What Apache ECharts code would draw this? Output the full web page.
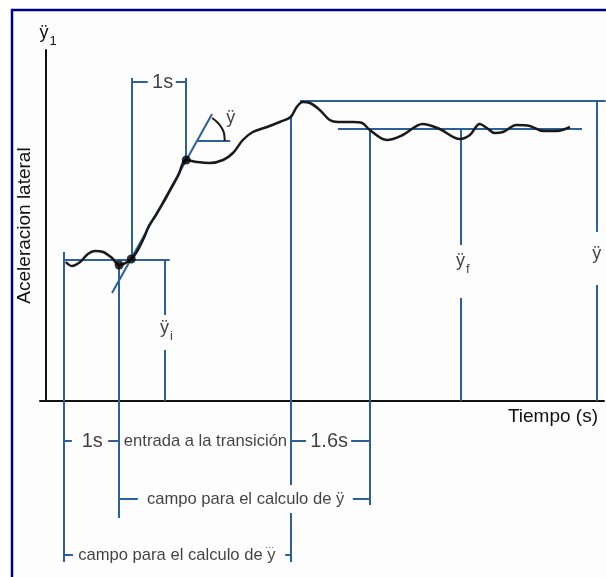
<!DOCTYPE html>
<html><head><meta charset="utf-8">
<script src="https://cdn.jsdelivr.net/npm/echarts@6/dist/echarts.min.js"></script>
<style>html,body{margin:0;padding:0;background:#ffffff}#c{width:606px;height:577px}</style>
</head><body><div id="c"></div>
<script>
// ---- data (time in s, lateral acceleration in arbitrary units) ----
const curveTime  = [0.36,0.47,0.62,0.76,0.89,1.04,1.20,1.33,1.55,1.67,1.78,1.87,2.00,2.13,2.25,2.40,2.55,2.75,2.98,3.22,3.40,3.58,3.76,4.02,4.25,4.45,4.56,4.67,4.80,4.98,5.16,5.31,5.58,5.75,5.89,6.20,6.49,6.85,7.16,7.53,7.71,7.89,8.02,8.16,8.31,8.56,8.80,9.04,9.29,9.53];
const curveAccel = [1.39,1.35,1.39,1.47,1.50,1.49,1.43,1.36,1.42,1.51,1.63,1.75,1.86,1.98,2.10,2.25,2.41,2.39,2.38,2.41,2.48,2.61,2.69,2.74,2.79,2.84,2.94,2.99,2.98,2.91,2.81,2.79,2.79,2.78,2.71,2.61,2.66,2.77,2.72,2.62,2.66,2.77,2.73,2.68,2.69,2.76,2.75,2.70,2.70,2.74];

// key points (black dots)
const dotTime  = [1.33, 1.55, 2.55];
const dotAccel = [1.36, 1.42, 2.41];

// slope (tangent) line
const slopeTime  = [1.20, 3.02];
const slopeAccel = [1.08, 2.87];

// angle arc
const arcTime  = [3.02, 3.11, 3.19, 3.24, 3.25];
const arcAccel = [2.83, 2.79, 2.735, 2.67, 2.60];

// horizontal guide segments: [accel, tFrom, tTo]
const hGuides = [
  [1.41, 0.31, 2.25],
  [2.60, 2.76, 3.35],
  [3.00, 4.62, 10.18],
  [2.72, 5.31, 9.75],
  [3.19, 1.55, 1.85],
  [3.19, 2.36, 2.55],
  [-0.40, 0.33, 0.47],
  [-0.40, 1.13, 1.33],
  [-0.40, 4.45, 4.73],
  [-0.40, 5.55, 5.89],
  [-0.98, 1.33, 1.67],
  [-0.98, 5.58, 5.89],
  [-1.54, 0.33, 0.49],
  [-1.54, 4.35, 4.45]
];
// vertical guide segments: [time, aFrom, aTo]
const vGuides = [
  [0.33, 1.49, -1.61],
  [1.33, 1.36, -1.17],
  [1.55, 3.23, 1.41],
  [2.55, 3.23, 2.41],
  [2.16, 1.41, 0.86],
  [2.16, 0.51, 0.00],
  [4.45, 2.84, -0.84],
  [4.45, -1.12, -1.61],
  [5.89, 2.72, -1.04],
  [7.55, 2.72, 1.56],
  [7.55, 1.03, 0.00],
  [10.02, 3.00, 1.69],
  [10.02, 1.16, 0.00]
];

// annotation texts: [time, accel, text]
const durationLabels = [
  [2.12, 3.19, '1s'],
  [0.84, -0.40, '1s'],
  [5.15, -0.40, '1.6s']
];
const rowLabels = [
  [2.90, -0.40, 'entrada a la transición'],
  [3.63, -0.98, 'campo para el calculo de ÿ'],
  [2.38, -1.54, 'campo para el calculo de y']
];
// third derivative mark over the last "y" of the bottom row
const jerkDots = [
  [4.07, -1.465, '···']
];
const symbolLabels = [
  [3.36, 2.80, '{y|ÿ}'],
  [2.19, 0.70, '{y|ÿ}{s|i}'],
  [7.58, 1.37, '{y|ÿ}{s|f}'],
  [10.02, 1.44, '{y|ÿ}']
];

const xMin = -0.11, xMax = 10.15, yMin = 0, yMax = 3.51;

// ---- build ----
const BLUE = '#2d5f9a';
const INK = '#111111';
const FONT = '"Liberation Sans", Arial, sans-serif';
const zip = (a, b) => a.map((v, i) => [v, b[i]]);

const segs = [];
hGuides.forEach(([a, t1, t2]) => segs.push({coords: [[t1, a], [t2, a]]}));
vGuides.forEach(([t, a1, a2]) => segs.push({coords: [[t, a1], [t, a2]]}));
segs.push({coords: zip(slopeTime, slopeAccel)});

const rich = {
  y: {fontSize: 18, color: INK, fontFamily: FONT, lineHeight: 24, verticalAlign: 'top'},
  s: {fontSize: 13, color: INK, fontFamily: FONT, lineHeight: 24, verticalAlign: 'bottom', padding: [0, 0, 0, 1]}
};

const chart = echarts.init(document.getElementById('c'), null, {renderer: 'canvas'});
chart.setOption({
  animation: false,
  backgroundColor: '#ffffff',
  graphic: [{
    type: 'rect', z: -10,
    shape: {x: 12, y: 10, width: 700, height: 700},
    style: {fill: '#fdfdfd', stroke: '#000080', lineWidth: 2.5}
  }],
  grid: {left: 40, right: 2, top: 50, bottom: 176, containLabel: false, outerBoundsMode: 'none'},
  xAxis: {
    type: 'value', min: xMin, max: xMax,
    axisLine: {show: true, onZero: true, lineStyle: {color: INK, width: 2}},
    axisTick: {show: false}, axisLabel: {show: false}, splitLine: {show: false},
    name: 'Tiempo (s)', nameLocation: 'end', nameGap: -6,
    nameTextStyle: {align: 'right', verticalAlign: 'top', fontSize: 19, color: INK, fontFamily: FONT, padding: [6, 0, 0, 0]}
  },
  yAxis: [{
    type: 'value', min: yMin, max: yMax,
    axisLine: {show: true, onZero: true, lineStyle: {color: INK, width: 2}},
    axisTick: {show: false}, axisLabel: {show: false}, splitLine: {show: false},
    name: '{y|ÿ}{s|1}', nameLocation: 'end', nameGap: 2,
    nameTextStyle: {rich: rich, align: 'center', padding: [0, 0, 0, 4]}
  }, {
    type: 'value', min: yMin, max: yMax, position: 'left',
    axisLine: {show: false, onZero: true}, axisTick: {show: false}, axisLabel: {show: false}, splitLine: {show: false},
    name: 'Aceleracion lateral', nameLocation: 'middle', nameRotate: 90, nameGap: 6,
    nameTextStyle: {fontSize: 19, color: INK, fontFamily: FONT}
  }],
  series: [
    {type: 'lines', coordinateSystem: 'cartesian2d', data: segs, clip: false, silent: true, z: 3,
     lineStyle: {color: BLUE, width: 2, opacity: 1, curveness: 0}},
    {type: 'line', data: zip(curveTime, curveAccel), smooth: 0.35, symbol: 'none', clip: false, z: 4,
     lineStyle: {color: '#1a1a1a', width: 2.5}},
    {type: 'line', data: zip(arcTime, arcAccel), smooth: true, symbol: 'none', clip: false, z: 4,
     lineStyle: {color: '#1a1a1a', width: 2}},
    {type: 'scatter', data: zip(dotTime, dotAccel), symbolSize: 9, itemStyle: {color: '#000'}, z: 5, clip: false},
    {type: 'scatter', data: durationLabels, symbolSize: 0, clip: false, z: 6, itemStyle: {color: 'transparent'},
     label: {show: true, position: 'inside', formatter: p => p.data[2], fontSize: 20, color: INK, fontFamily: FONT,
             backgroundColor: '#fdfdfd', padding: [0, 2]}},
    {type: 'scatter', data: rowLabels, symbolSize: 0, clip: false, z: 6, itemStyle: {color: 'transparent'},
     label: {show: true, position: 'inside', formatter: p => p.data[2], fontSize: 16.6, color: INK, fontFamily: FONT}},
    {type: 'scatter', data: jerkDots, symbolSize: 0, clip: false, z: 6, itemStyle: {color: 'transparent'},
     label: {show: true, position: 'inside', formatter: p => p.data[2], fontSize: 9, color: INK, fontFamily: FONT}},
    {type: 'scatter', data: symbolLabels, symbolSize: 0, clip: false, z: 6, itemStyle: {color: 'transparent'},
     label: {show: true, position: 'inside', formatter: p => p.data[2], rich: rich}}
  ]
});
</script>
</body></html>
